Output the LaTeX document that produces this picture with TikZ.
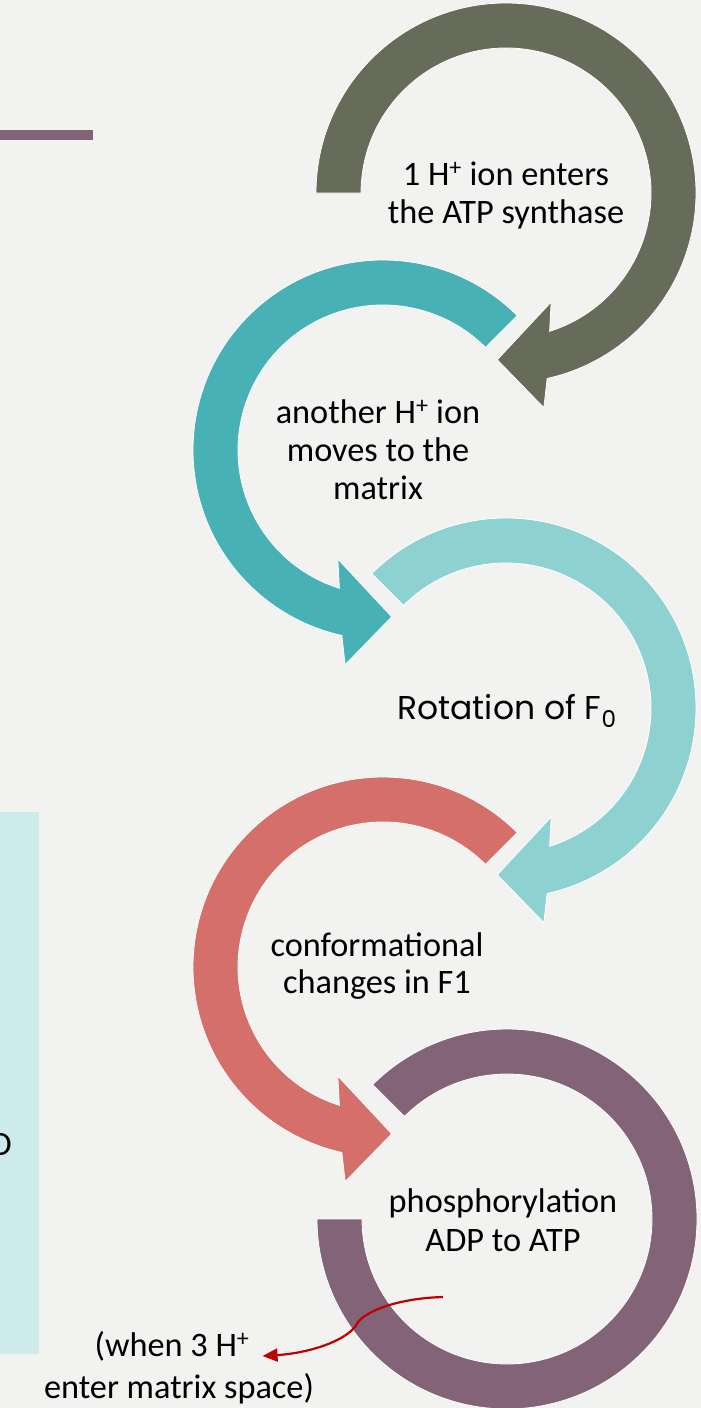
\documentclass[tikz,border=0pt]{standalone}
\usepackage{fontspec}
\setmainfont{Carlito}
\newfontfamily\gothicfont{Poppins}
\usepackage{tikz}
\usetikzlibrary{arrows.meta}

\definecolor{slidebg}{RGB}{242,242,241}
\definecolor{arrowOlive}{RGB}{103,107,90}
\definecolor{arrowTeal}{RGB}{72,177,181}
\definecolor{arrowAqua}{RGB}{142,209,209}
\definecolor{arrowRed}{RGB}{212,111,106}
\definecolor{arrowPlum}{RGB}{131,99,120}
\definecolor{boxCyan}{RGB}{205,235,235}
\definecolor{curveRed}{RGB}{192,0,0}

\tikzset{
  ring/.style={ draw=white, line width=0.8pt, line join=miter }
}
\tikzset{
  lbl/.style={ anchor=base, inner sep=0pt, font=\fontsize{34.3}{38}\selectfont }
}
\tikzset{
  curvearrow/.style={ draw=curveRed, line width=2.2pt, -{Triangle[length=15pt,width=13pt]} }
}

\begin{document}
\begin{tikzpicture}[x=1pt, y=-1pt]
  \fill[slidebg] (0,0) rectangle (701,1408);
  \useasboundingbox (0,0) rectangle (701,1408);

  % slide leftovers
  \fill[arrowPlum] (0,130) rectangle (93,140);
  \fill[boxCyan] (0,812) rectangle (39,1354);
  \node[lbl, anchor=base east] (cut) at (12,1155) {D};

  % clockwise arrows
  \foreach \cy/\tail/\col in {193/180/arrowOlive, 708/225/arrowAqua}
    \draw[ring, fill=\col, shift={(506,\cy)}]
      (\tail:190) arc[start angle=\tail, end angle=437.5, radius=190]
      -- (80:218) -- (93:167) -- (67.5:118) -- (72.5:145)
      arc[start angle=432.5, end angle=\tail, radius=145] -- cycle;

  % counter-clockwise arrows
  \foreach \cy/\col in {450/arrowTeal, 967/arrowRed}
    \draw[ring, fill=\col, shift={(383,\cy)}]
      (-45:190) arc[start angle=-45, end angle=-257.5, radius=190]
      -- (100:218) -- (87:167) -- (112.5:118) -- (107.5:145)
      arc[start angle=-252.5, end angle=-45, radius=145] -- cycle;

  % last ring has no head
  \draw[ring, fill=arrowPlum, shift={(507,1219)}]
    (225:190) arc[start angle=225, end angle=540, radius=190]
    -- (180:145) arc[start angle=180, end angle=-135, radius=145] -- cycle;

  \node[lbl] (enter1) at (506,185) {1 H\textsuperscript{+} ion enters};
  \node[lbl] (enter2) at (506,223) {the ATP synthase};

  \node[lbl] (move1) at (378,423) {another H\textsuperscript{+} ion};
  \node[lbl] (move2) at (378,461) {moves to the};
  \node[lbl] (move3) at (378,499) {matrix};

  \node[lbl, font=\gothicfont\fontsize{33}{38}\selectfont] (rot) at (507,719) {Rotation of F\textsubscript{0}};

  \node[lbl] (conf1) at (377,956) {conformational};
  \node[lbl] (conf2) at (377,993) {changes in F1};

  \node[lbl] (phos1) at (503,1212) {phosphorylation};
  \node[lbl] (phos2) at (503,1251) {ADP to ATP};

  \node[lbl, inner xsep=13pt] (when1) at (172,1356) {(when 3 H\textsuperscript{+}};
  \node[lbl] (when2) at (179,1398) {enter matrix space)};

  \coordinate (src) at (443,1297);
  \draw[curvearrow] (src) .. controls (405,1298) and (370,1308) .. (358,1322)
    .. controls (350,1340) and (310,1353) .. (when1.base east);
\end{tikzpicture}
\end{document}
